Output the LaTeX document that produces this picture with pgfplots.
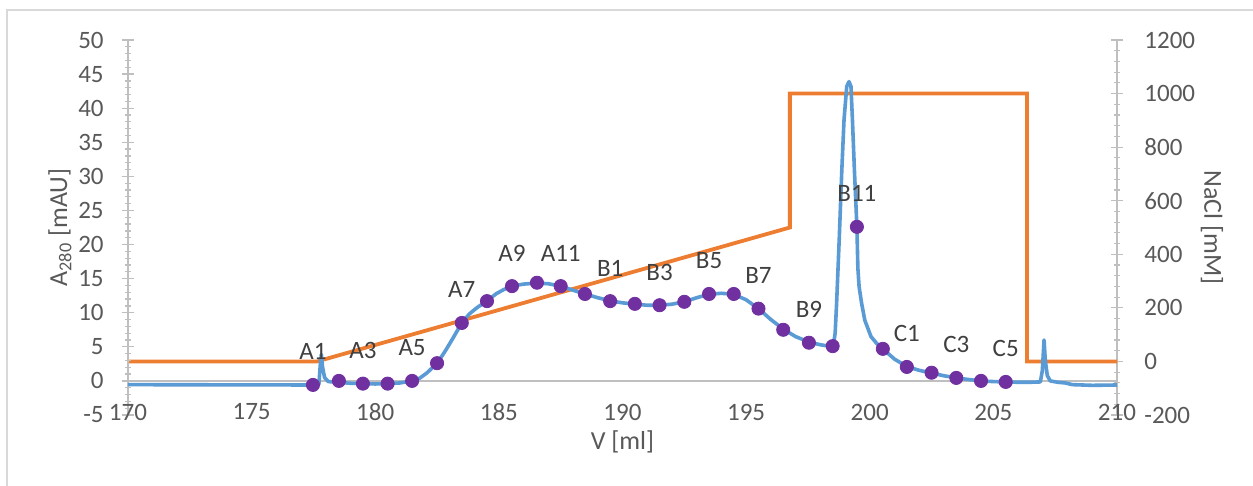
\documentclass[border=0pt]{standalone}
\usepackage{pgfplots}
\pgfplotsset{compat=1.18}
\usepackage{fontspec}
\setmainfont{Carlito}
\definecolor{cblue}{HTML}{5B9BD5}
\definecolor{corange}{HTML}{ED7D31}
\definecolor{cpurple}{HTML}{7030A0}
\definecolor{ctext}{HTML}{595959}
\definecolor{clabel}{HTML}{404040}
\definecolor{caxis}{HTML}{BFBFBF}
\definecolor{cframe}{HTML}{D9D9D9}
\pgfplotsset{
  common/.style={
    scale only axis, width=494.5pt, height=187.5pt,
    at={(64pt,35.5pt)}, anchor=south west,
    xmin=170, xmax=210,
    clip=false,
    tick label style={font=\fontsize{12.5}{14}\selectfont, text=ctext},
    label style={font=\fontsize{13}{15}\selectfont, text=ctext},
    axis line style={caxis, line width=0.6pt},
    every tick/.style={caxis, line width=0.6pt},
    tick align=center,
    major tick length=6pt, minor tick length=3pt,
    /pgf/number format/assume math mode=true,
    /pgf/number format/1000 sep={},
  }
}
\begin{document}
\begin{tikzpicture}
\path[use as bounding box] (0,0) rectangle (626.5pt,243pt);
\fill[white] (0,0) rectangle (626.5pt,243pt);
\draw[cframe, line width=0.6pt] (3.5pt,-5pt) -- (3.5pt,238pt) -- (640pt,238pt);

% right axis: NaCl
\begin{axis}[common,
  ymin=-200, ymax=1200, ytick={-200,0,...,1200}, minor y tick num=4,
  axis y line*=right, hide x axis,
  yticklabel style={anchor=west, inner sep=0pt, xshift=10.5pt},
  ylabel={NaCl [mM]},
  y label style={at={(axis description cs:1.0961,0.5)}, anchor=center, rotate=180},
]
\addplot[corange, line width=1.9pt, line join=miter] coordinates {
 (170,0) (177.65,0) (196.77,500) (196.77,1000) (206.36,1000) (206.36,0) (210,0)
};
\end{axis}

% left axis: A280
\begin{axis}[common,
  ymin=-5, ymax=50, ytick={-5,0,...,50}, minor y tick num=4,
  axis y line*=left, axis x line*=bottom,
  x axis line style={draw=none},
  xtick={170,175,...,210}, xtick style={draw=none},
  xticklabel style={anchor=center, yshift=4.5pt},
  yticklabel style={anchor=east, inner sep=0pt, xshift=-9pt},
  extra y ticks={0}, extra y tick labels={},
  extra y tick style={grid=major, major grid style={caxis, line width=0.6pt}, major tick length=0pt},
  xlabel={V [ml]},
  x label style={at={(axis description cs:0.5,0)}, anchor=center, yshift=-13.5pt},
  ylabel={A\textsubscript{280} [mAU]},
  y label style={at={(axis description cs:-0.0688,0.5)}, anchor=center},
]
\addplot[cblue, line width=1.8pt, line join=round] coordinates {
(170,-0.55) (177.6,-0.6) (177.72,-0.55) (177.78,2.5) (177.82,3.9) (177.87,2.0) (177.95,0.5) (178.1,-0.1) (178.5,-0.2) (179.0,-0.35) (179.5,-0.4) (180.0,-0.45) (180.5,-0.4) (181.0,-0.3) (181.5,0.0) (181.8,0.4) (182.1,1.2) (182.5,2.6) (182.8,4.2) (183.1,6.0) (183.5,8.5) (183.8,9.8) (184.1,10.7) (184.5,11.7) (184.9,12.8) (185.2,13.4) (185.53,13.9) (186.0,14.2) (186.54,14.35) (187.0,14.25) (187.5,13.9) (188.0,13.3) (188.48,12.75) (189.0,12.2) (189.5,11.75) (190.0,11.45) (190.5,11.25) (191.0,11.1) (191.5,11.1) (192.0,11.25) (192.5,11.6) (193.0,12.2) (193.5,12.7) (194.0,12.85) (194.5,12.7) (195.0,11.9) (195.5,10.6) (196.0,9.0) (196.5,7.6) (197.0,6.5) (197.54,5.7) (198.0,5.3) (198.52,5.0) (198.6,7.0) (198.66,11.4) (198.77,21.2) (198.87,30.9) (198.96,38.3) (199.07,43.2) (199.16,43.9) (199.24,43.2) (199.3,38.3) (199.38,30.9) (199.45,25.1) (199.48,22.6) (199.52,16.5) (199.57,13.8) (199.67,11.4) (199.8,8.9) (200.05,6.5) (200.28,5.5) (200.53,4.7) (201.0,3.2) (201.5,2.1) (202.0,1.55) (202.5,1.15) (203.0,0.75) (203.5,0.45) (204.0,0.2) (204.5,0.0) (205.0,-0.1) (205.5,-0.15) (206.0,-0.2) (206.5,-0.2) (206.9,-0.15) (206.98,1.5) (207.05,6.0) (207.1,3.0) (207.18,0.8) (207.3,0.0) (207.6,-0.2) (207.9,-0.3) (208.2,-0.55) (209.0,-0.65) (210,-0.6)
};
\addplot[only marks, mark=*, mark size=3.3pt, mark options={draw=cpurple, fill=cpurple}] coordinates {
(178.53,0.0) (180.5,-0.4) (182.5,2.6) (184.52,11.7) (186.54,14.4) (188.48,12.75) (190.5,11.3) (192.5,11.6) (194.5,12.75) (196.5,7.5) (198.5,5.1) (200.53,4.7) (202.5,1.2) (204.5,0.0)
};
\addplot[only marks, mark=*, mark size=3.3pt, mark options={draw=cpurple, fill=cpurple},
  point meta=explicit symbolic, nodes near coords,
  every node near coord/.append style={font=\fontsize{12.5}{14}\selectfont, text=clabel, anchor=center, yshift=16.5pt}] coordinates {
(177.48,-0.59) [A1] (179.5,-0.4) [A3] (181.49,0.0) [A5] (183.5,8.5) [A7] (185.53,13.9) [A9] (187.5,13.9) [A11]
(189.5,11.7) [B1] (191.5,11.1) [B3] (193.5,12.75) [B5] (195.5,10.6) [B7] (197.54,5.6) [B9] (199.48,22.6) [B11]
(201.5,2.05) [C1] (203.5,0.44) [C3] (205.5,-0.15) [C5]
};
\end{axis}
\end{tikzpicture}
\end{document}
